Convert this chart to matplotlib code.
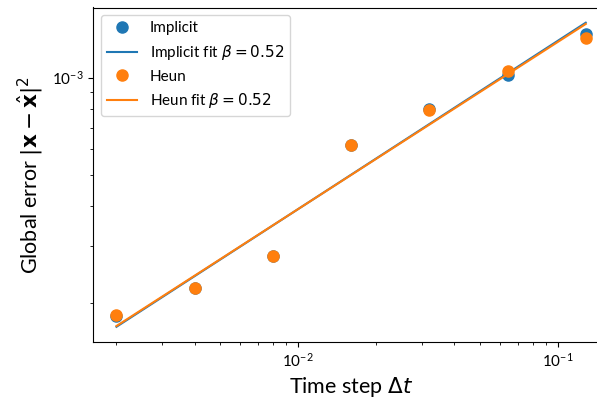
import numpy as np
import matplotlib
matplotlib.use("Agg")
import matplotlib.pyplot as plt

plt.rcParams['font.family'] = ['Lato', 'DejaVu Sans']
plt.rcParams['mathtext.fontset'] = 'dejavusans'

dt = [0.002, 0.004, 0.008, 0.016, 0.032, 0.064, 0.128]
err_implicit = [1.825e-4, 2.229e-4, 2.796e-4, 6.166e-4, 8.01e-4, 1.021e-3, 1.365e-3]
err_heun = [1.835e-4, 2.229e-4, 2.796e-4, 6.166e-4, 7.917e-4, 1.046e-3, 1.325e-3]

fig = plt.figure(figsize=(5.97, 3.99), dpi=100)
ax = fig.add_axes([93/597, 57/399, 516.2/597, 334.5/399])

x = np.array(dt)
for name, err, c in [("Implicit", err_implicit, "C0"), ("Heun", err_heun, "C1")]:
    e = np.array(err)
    beta, logc = np.polyfit(np.log(x), np.log(e), 1)
    ax.plot(x, e, 'o', color=c, ms=8, label=name)
    ax.plot(x, np.exp(logc) * x**beta, '-', color=c, lw=1.5,
            label=name + r" fit $\beta = %.2f$" % beta)

ax.set_xscale('log')
ax.set_yscale('log')
ax.set_xlabel(r"Time step $\Delta t$", fontsize=15.5)
ax.set_ylabel(r"Global error $|\mathbf{x} - \hat{\mathbf{x}}|^2$", fontsize=15.5)
ax.tick_params(labelsize=11)
ax.legend(loc='upper left', fontsize=11)

fig.savefig("out.png", dpi=100)
